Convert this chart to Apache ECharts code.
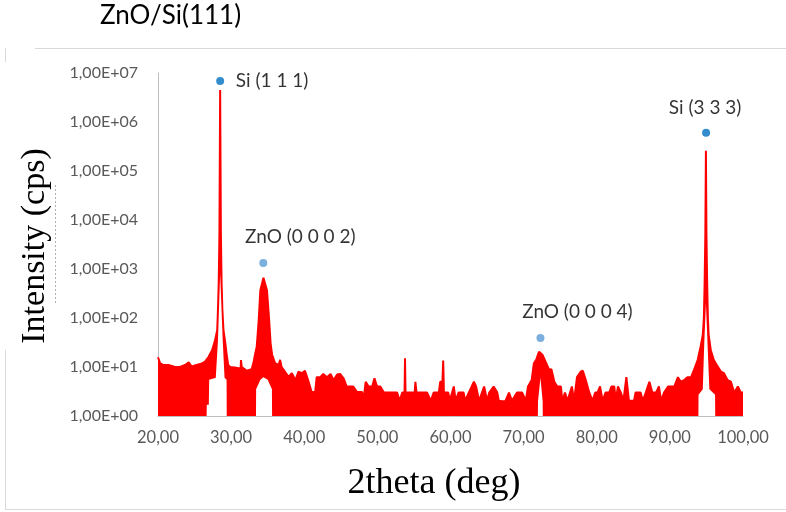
<!DOCTYPE html>
<html>
<head>
<meta charset="utf-8">
<script src="https://cdn.jsdelivr.net/npm/echarts@6/dist/echarts.min.js"></script>
<style>
html,body{margin:0;padding:0;background:#fff;}
#chart{width:786px;height:512px;}
</style>
</head>
<body>
<div id="chart"></div>
<script>
// ---- data (2theta in deg, intensity in cps) ----
const upperTheta = [20.0,20.3,20.7,21.4,21.9,22.3,23.0,23.7,24.2,24.6,25.3,26.0,26.4,26.9,27.4,27.8,28.1,28.2,28.3,28.4,28.5,28.6,28.7,28.8,28.95,29.2,29.4,29.6,29.86,30.5,31.0,31.3,31.35,31.45,31.7,32.15,32.8,33.05,33.2,33.5,33.75,34.0,34.42,34.9,35.2,35.4,35.6,36.0,36.5,36.7,36.9,37.2,37.85,38.3,38.8,39.2,39.7,39.9,40.1,40.6,41.0,41.5,41.7,42.2,42.6,43.1,43.6,44.0,44.5,44.9,45.4,45.8,46.7,47.2,47.9,48.1,48.4,48.8,49.3,49.6,49.96,50.4,50.9,52.7,53.05,53.4,53.72,53.78,53.85,54.7,55.1,55.2,55.35,56.8,57.3,57.7,58.4,58.6,58.9,59.0,59.1,59.7,59.9,60.45,60.7,61.1,61.8,62.0,62.5,62.9,63.2,63.5,63.9,64.6,65.0,65.3,65.9,66.4,66.6,67.1,67.5,68.0,68.4,69.1,69.8,70.3,70.6,71.1,71.4,71.7,72.1,72.3,72.6,73.0,73.5,73.8,74.2,74.6,75.1,75.3,75.65,76.0,76.6,76.9,77.3,77.8,78.1,78.5,78.95,79.4,79.8,80.1,80.45,80.8,81.2,81.7,82.0,82.4,82.6,82.9,83.3,83.65,84.05,84.15,84.4,85.1,85.3,86.0,86.3,86.7,87.2,87.6,88.1,88.5,88.8,89.2,89.75,90.6,91.1,91.5,91.95,92.4,92.9,93.3,93.8,94.2,94.5,94.65,94.75,94.85,94.93,95.0,95.1,95.2,95.3,95.6,96.0,96.5,97.0,97.4,97.9,98.35,98.8,99.3,99.7,100.0];
const upperCounts = [15.8,11.9,11,11,10.5,10,10,11,12.5,10.2,11,11.8,12.8,16,22,35,57,150,500,5000,4500000,5000,500,150,57,31,17.5,11,10,9.8,9.4,9.5,13.9,10,10,8.4,9,12,16,26,80,370,660,370,90,30,18,12,11,14,10,8.7,6.3,7.5,5.4,8,7.5,8,8.4,5,3.1,3.1,6.2,6.2,7.2,6.2,7.2,5.4,7,7.2,5.8,4,4,3.1,3.1,2.05,5,4,4,5.9,4,4,3,3,2.05,3,3,15,3,3,3,5,3,3,2.05,3,3,5,5,13.5,3,3,2.05,4,2.05,3,3,2.05,3,4,5,4,2.05,4,2.05,3,4,3,2.05,2,2,3,2.05,3,3,2.05,4,5.4,11.9,13.9,20.5,21.5,17.5,12.8,8.7,9,5,4,4,2,3,2.05,4,2.05,6.2,8,8.4,5.4,3.1,2.05,3,3,4,2.05,3,3,4,4,2.05,4,3,2.05,6.2,6.2,2.05,2.05,3,3,2.05,3,5,3,3,4,2.05,3,4,4,6.2,5,5.4,6.2,6.2,8.7,13.9,26,45,100,500,5000,260000,5000,500,100,45,22,14,10.4,8,7.5,5.4,5,3,4,3,3];

// inner (lower) edge of the band where the trace never drops to the floor
const gapSi111Theta  = [26.65,26.67,26.95,27.0,27.9,28.2,28.5,28.85,29.1,29.38,29.4];
const gapSi111Counts = [1,1.7,1.7,5.5,6,35,800,35,6,5.5,1];
const gapZnO0002Theta  = [33.4,33.42,34.0,34.42,35.0,35.58,35.6];
const gapZnO0002Counts = [1,3.5,5.5,6.2,5.5,3.5,1];
const gapZnO0004Theta  = [71.95,71.97,72.3,72.6,72.62];
const gapZnO0004Counts = [1,2,6,2,1];
const gapSi333Theta  = [93.9,93.92,94.5,94.7,94.93,95.15,95.4,96.18,96.2];
const gapSi333Counts = [1,2.7,3.5,30,200,30,3.5,2.7,1];

// peak markers and labels
const peakNames  = ['Si (1 1 1)','ZnO (0 0 0 2)','ZnO (0 0 0 4)','Si (3 3 3)'];
const peakTheta  = [28.5, 34.4, 72.3, 94.95];
const peakCounts = [6900000, 1330, 39, 600000];

const xMin = 20, xMax = 100, xStep = 10;
const yMin = 1, yMax = 10000000;

// ---- build ----
const zip = (a,b) => a.map((v,i)=>[v,b[i]]);
const chart = echarts.init(document.getElementById('chart'), null, {renderer:'canvas'});

const gapSeries = [[gapSi111Theta,gapSi111Counts],[gapZnO0002Theta,gapZnO0002Counts],[gapZnO0004Theta,gapZnO0004Counts],[gapSi333Theta,gapSi333Counts]].map(g=>({
  type:'line', data: zip(g[0],g[1]), symbol:'none', z:3, silent:true,
  lineStyle:{width:0, color:'#ffffff'}, areaStyle:{color:'#ffffff', opacity:1},
  itemStyle:{color:'#ffffff'}
}));

const markerColor = ['#0070C0','#5B9BD5','#5B9BD5','#0070C0'];
const labelOffset = [[52,0],[37,-26],[37,-26],[-1,-25]];

const scatterData = peakTheta.map((t,i)=>({
  value:[t, peakCounts[i]],
  name: peakNames[i],
  itemStyle:{color: markerColor[i]},
  label:{show:true, position:'inside', offset: labelOffset[i], formatter: peakNames[i],
    color:'#000', fontFamily:'Lato', fontSize:19, align:'center', verticalAlign:'middle'}
}));

const option = {
  animation:false,
  backgroundColor:'#ffffff',
  grid:{left:158, right:43, top:73, bottom:96, containLabel:false},
  xAxis:{
    type:'value', min:xMin, max:xMax, interval:xStep,
    axisLine:{show:true, lineStyle:{color:'#bfbfbf', width:1}},
    axisTick:{show:false}, splitLine:{show:false},
    axisLabel:{color:'#595959', fontFamily:'Lato', fontSize:16.5, margin:13,
      formatter: v => v.toFixed(2).replace('.', ',')}
  },
  yAxis:{
    type:'log', logBase:10, min:yMin, max:yMax,
    axisLine:{show:true, lineStyle:{color:'#bfbfbf', width:1}},
    axisTick:{show:false}, splitLine:{show:false},
    axisLabel:{color:'#595959', fontFamily:'Lato', fontSize:16, margin:20,
      formatter: v => { const e = Math.round(Math.log10(v)); return '1,00E+' + (e<10?'0':'') + e; }}
  },
  series:[
    {type:'line', data: zip(upperTheta, upperCounts), symbol:'none', z:2,
     lineStyle:{color:'#FF0000', width:2}, itemStyle:{color:'#FF0000'},
     areaStyle:{color:'#FF0000', opacity:1}}
  ].concat(gapSeries).concat([
    {type:'scatter', data: scatterData, symbol:'circle', symbolSize:8, z:5}
  ]),
  graphic:[
    {type:'line', shape:{x1:35,y1:48.5,x2:786,y2:48.5}, style:{stroke:'#d9d9d9', lineWidth:1}, silent:true},
    {type:'line', shape:{x1:5.5,y1:48,x2:5.5,y2:62}, style:{stroke:'#d9d9d9', lineWidth:1}, silent:true},
    {type:'line', shape:{x1:5.5,y1:350,x2:5.5,y2:510}, style:{stroke:'#d9d9d9', lineWidth:1}, silent:true},
    {type:'line', shape:{x1:5,y1:509.5,x2:786,y2:509.5}, style:{stroke:'#d9d9d9', lineWidth:1}, silent:true},
    {type:'line', shape:{x1:55.5,y1:185,x2:55.5,y2:305}, style:{stroke:'#b0b0b0', lineWidth:1, lineDash:[2,2]}, silent:true},
    {type:'text', left:100, top:3, style:{text:'ZnO/Si(111)', fill:'#000', font:'26px Lato'}, silent:true},
    {type:'text', x:434, y:484, style:{text:'2theta (deg)', fill:'#000', font:'36px "Liberation Serif"', textAlign:'center', textVerticalAlign:'middle'}, silent:true},
    {type:'text', x:35, y:246, rotation:Math.PI/2, style:{text:'Intensity (cps)', fill:'#000', font:'34px "Liberation Serif"', textAlign:'center', textVerticalAlign:'middle'}, silent:true}
  ]
};
chart.setOption(option);
</script>
</body>
</html>
